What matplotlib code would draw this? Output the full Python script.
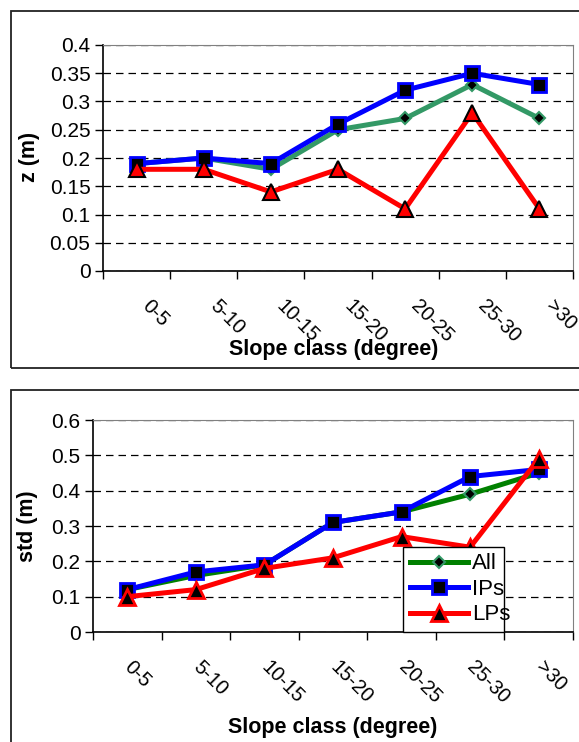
import numpy as np
from matplotlib import pyplot as plt
from matplotlib.patches import Rectangle
from matplotlib.transforms import ScaledTranslation

plt.rcParams['font.family'] = ['Liberation Sans', 'DejaVu Sans']

# Data
classes = ['0-5', '5-10', '10-15', '15-20', '20-25', '25-30', '>30']

z_all = [0.19, 0.20, 0.18, 0.25, 0.27, 0.33, 0.27]
z_ips = [0.19, 0.20, 0.19, 0.26, 0.32, 0.35, 0.33]
z_lps = [0.18, 0.18, 0.14, 0.18, 0.11, 0.28, 0.11]

std_all = [0.12, 0.16, 0.19, 0.31, 0.34, 0.39, 0.45]
std_ips = [0.12, 0.17, 0.19, 0.31, 0.34, 0.44, 0.46]
std_lps = [0.10, 0.12, 0.18, 0.21, 0.27, 0.24, 0.49]

W, H = 579, 742
fig = plt.figure(figsize=(W / 100, H / 100), dpi=100)


def px_axes(left, top, right, bottom):
    return fig.add_axes([left / W, 1 - bottom / H, (right - left) / W, (bottom - top) / H])


def frame(left, top, right, bottom):
    fig.patches.append(Rectangle((left / W, 1 - bottom / H), (right - left) / W, (bottom - top) / H,
                                 transform=fig.transFigure, fill=False, ec='#222222', lw=1.3))


def style_axes(ax, ymax, ystep, xshift):
    n = len(classes)
    x = np.arange(n)
    ax.set_xlim(-0.5, n - 0.5)
    ax.set_ylim(0, ymax)
    ax.set_yticks(np.arange(0, ymax + 1e-9, ystep))
    ax.set_yticklabels(['%g' % v for v in np.arange(0, ymax + 1e-9, ystep)], fontsize=15)
    ax.set_xticks(np.arange(n + 1) - 0.5)
    ax.set_xticklabels([])
    ax.set_xticks(x, minor=True)
    ax.set_xticklabels(classes, minor=True, rotation=-45, rotation_mode='anchor',
                       ha='left', va='center', fontsize=14.5)
    ax.tick_params(axis='x', which='minor', length=0, pad=23)
    ax.tick_params(axis='y', which='major', pad=3)
    ax.tick_params(axis='both', which='major', direction='out', length=6, width=1)
    # nudge the slanted labels sideways, like the original
    for lab in ax.get_xticklabels(minor=True):
        lab.set_transform(lab.get_transform() + ScaledTranslation(xshift / 100, 0, fig.dpi_scale_trans))
    ax.grid(axis='y', linestyle=(0, (6, 4)), color='black', lw=0.9)
    ax.set_axisbelow(True)
    for s in ['top', 'right']:
        ax.spines[s].set_color('#808080')
    for s in ['left', 'bottom']:
        ax.spines[s].set_linewidth(1.2)


lw = 3.6
ms = 8

# Top panel
frame(11, 11, 600, 368)
ax1 = px_axes(103, 45, 573, 271)
x = np.arange(len(classes))
ax1.plot(x, z_all, color='#339966', lw=lw, marker='D', ms=6.5, mfc='black', mec='#339966', mew=1.5)
ax1.plot(x, z_ips, color='#0000ff', lw=lw, marker='s', ms=ms + 1.5, mfc='black', mec='#0000ff', mew=2)
ax1.plot(x, z_lps, color='#ff0000', lw=lw, marker='^', ms=ms + 3.5, mfc='#ff0000', mec='black', mew=1.5)
style_axes(ax1, 0.4, 0.05, 9)
fig.text(334 / W, 1 - 349 / H, 'Slope class (degree)', fontsize=15.5, fontweight='bold',
         ha='center', va='center')
fig.text(29 / W, 1 - 157 / H, 'z (m)', fontsize=15.5, fontweight='bold', rotation=90,
         ha='center', va='center')

# Bottom panel
frame(11, 390, 600, 760)
ax2 = px_axes(93, 420, 573, 632)
ax2.plot(x, std_all, color='#008000', lw=lw, marker='D', ms=6.5, mfc='black', mec='#339966', mew=1.5,
         label='All')
ax2.plot(x, std_ips, color='#0000ff', lw=lw, marker='s', ms=ms + 1.5, mfc='black', mec='#0000ff', mew=2,
         label='IPs')
ax2.plot(x, std_lps, color='#ff0000', lw=lw, marker='^', ms=ms + 3.5, mfc='black', mec='#ff0000', mew=2,
         label='LPs')
style_axes(ax2, 0.6, 0.1, 0)
leg = ax2.legend(loc='lower left', bbox_to_anchor=(0.646, 0.0, 0.21, 0.377), mode='expand',
                 fontsize=16, frameon=True, fancybox=False, edgecolor='black', framealpha=1,
                 borderpad=0.3, handlelength=2.6, handletextpad=0.2, labelspacing=0.2,
                 borderaxespad=0)
leg.get_frame().set_linewidth(1)
fig.text(333 / W, 1 - 727 / H, 'Slope class (degree)', fontsize=15.5, fontweight='bold',
         ha='center', va='center')
fig.text(28 / W, 1 - 526 / H, 'std (m)', fontsize=15.5, fontweight='bold', rotation=90,
         ha='center', va='center')

fig.savefig('out.png', dpi=100)
